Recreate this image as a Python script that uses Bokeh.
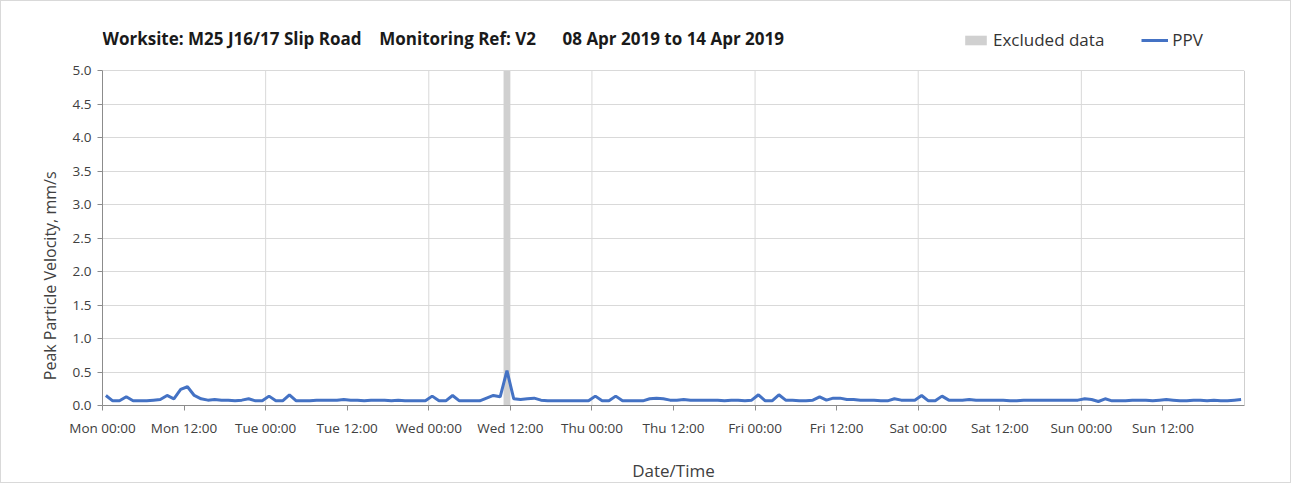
from bokeh.plotting import figure
from bokeh.models import (FixedTicker, Legend, LegendItem, ColumnDataSource,
                          NumeralTickFormatter, Label, Range1d)
from bokeh.embed import file_html
from bokeh.resources import INLINE

# ---------------- data ----------------
title_text = "Worksite: M25 J16/17 Slip Road\u00a0\u00a0\u00a0\u00a0Monitoring Ref: V2\u00a0\u00a0\u00a0\u00a0\u00a0\u00a008 Apr 2019 to 14 Apr 2019"
y_label = "Peak Particle Velocity, mm/s"
x_label = "Date/Time"

# hourly PPV readings (mm/s), Mon 00:00 .. Sun 23:00, plotted at mid-hour
ppv_mon = [0.15, 0.07, 0.07, 0.13, 0.07, 0.07, 0.07, 0.08, 0.09, 0.15, 0.10, 0.24,
           0.28, 0.15, 0.10, 0.08, 0.09, 0.08, 0.08, 0.07, 0.08, 0.10, 0.07, 0.07]
ppv_tue = [0.14, 0.07, 0.07, 0.16, 0.07, 0.07, 0.07, 0.08, 0.08, 0.08, 0.08, 0.09,
           0.08, 0.08, 0.07, 0.08, 0.08, 0.08, 0.07, 0.08, 0.07, 0.07, 0.07, 0.07]
ppv_wed = [0.14, 0.07, 0.07, 0.15, 0.07, 0.07, 0.07, 0.07, 0.11, 0.15, 0.13, 0.52,
           0.10, 0.09, 0.10, 0.11, 0.08, 0.07, 0.07, 0.07, 0.07, 0.07, 0.07, 0.07]
ppv_thu = [0.14, 0.07, 0.07, 0.14, 0.07, 0.07, 0.07, 0.07, 0.10, 0.11, 0.10, 0.08,
           0.08, 0.09, 0.08, 0.08, 0.08, 0.08, 0.08, 0.07, 0.08, 0.08, 0.07, 0.08]
ppv_fri = [0.16, 0.07, 0.07, 0.16, 0.08, 0.08, 0.07, 0.07, 0.08, 0.13, 0.08, 0.11,
           0.11, 0.09, 0.09, 0.08, 0.08, 0.08, 0.07, 0.07, 0.10, 0.08, 0.08, 0.08]
ppv_sat = [0.15, 0.07, 0.07, 0.14, 0.08, 0.08, 0.08, 0.09, 0.08, 0.08, 0.08, 0.08,
           0.08, 0.07, 0.07, 0.08, 0.08, 0.08, 0.08, 0.08, 0.08, 0.08, 0.08, 0.08]
ppv_sun = [0.10, 0.09, 0.06, 0.10, 0.07, 0.07, 0.07, 0.08, 0.08, 0.08, 0.07, 0.08,
           0.09, 0.08, 0.07, 0.07, 0.08, 0.08, 0.07, 0.08, 0.07, 0.07, 0.08, 0.09]
ppv = ppv_mon + ppv_tue + ppv_wed + ppv_thu + ppv_fri + ppv_sat + ppv_sun
hours = [h + 0.5 for h in range(len(ppv))]

# excluded data window (hours from Mon 00:00)
excl_start = [59.0]
excl_end = [60.0]

x_tick_hours = [0, 12, 24, 36, 48, 60, 72, 84, 96, 108, 120, 132, 144, 156]
x_tick_labels = ["Mon 00:00", "Mon 12:00", "Tue 00:00", "Tue 12:00", "Wed 00:00",
                 "Wed 12:00", "Thu 00:00", "Thu 12:00", "Fri 00:00", "Fri 12:00",
                 "Sat 00:00", "Sat 12:00", "Sun 00:00", "Sun 12:00"]
day_lines = [24, 48, 72, 96, 120, 144]
x_end = 168
y_ticks = [0.0, 0.5, 1.0, 1.5, 2.0, 2.5, 3.0, 3.5, 4.0, 4.5, 5.0]
y_max = 5.0

# ---------------- layout ----------------
FONT = "Open Sans"
W, H = 1291, 483
LEFT, RIGHT, TOP, BOTTOM = 101, 48, 20, 75
frame_h = H - TOP - BOTTOM
ppu = 338 / y_max                       # pixels per mm/s for the value area
head_room = (frame_h - 338) / ppu       # space above 5.0 for title/legend

p = figure(width=W, height=H, output_backend="svg", toolbar_location=None,
           x_range=Range1d(0, x_end), y_range=Range1d(0, y_max + head_room),
           min_border_left=LEFT, min_border_right=RIGHT, min_border_top=TOP,
           min_border_bottom=BOTTOM)
p.styles = {"border": "1px solid #d9d9d9"}
p.background_fill_color = "white"
p.border_fill_color = "white"
p.outline_line_color = None

# grids: horizontal at every tick, vertical at day boundaries (only in value area)
p.ygrid.ticker = FixedTicker(ticks=y_ticks)
p.ygrid.grid_line_color = "#d9d9d9"
p.xgrid.visible = False
p.segment(x0=day_lines, x1=day_lines, y0=[0.0] * len(day_lines),
          y1=[y_max] * len(day_lines), line_color="#d9d9d9", line_width=1)
p.segment(x0=[x_end], x1=[x_end], y0=[0.0], y1=[y_max],
          line_color="#a0a0a0", line_width=1)

# axes
p.yaxis.ticker = FixedTicker(ticks=y_ticks)
p.yaxis.bounds = (0, y_max)
p.yaxis.formatter = NumeralTickFormatter(format="0.0")
p.xaxis.ticker = FixedTicker(ticks=x_tick_hours)
p.xaxis.major_label_overrides = {h: lab for h, lab in zip(x_tick_hours, x_tick_labels)}
for ax in (p.xaxis[0], p.yaxis[0]):
    ax.axis_line_color = "#8c8c8c"
    ax.major_tick_line_color = "#8c8c8c"
    ax.major_tick_in = 0
    ax.major_tick_out = 5
    ax.minor_tick_line_color = None
    ax.major_label_text_font = FONT
    ax.major_label_text_font_size = "13.5px"
    ax.major_label_text_color = "#404040"
    ax.axis_label_text_font = FONT
    ax.axis_label_text_font_style = "normal"
    ax.axis_label_text_color = "#404040"
# the axis title sits centred on the value area (shifted below the head room)
p.yaxis.axis_label = y_label + "\u00a0" * 30
p.yaxis.axis_label_text_font_size = "16px"
p.yaxis.major_label_standoff = 6
p.yaxis.axis_label_standoff = 9
p.xaxis.axis_label = x_label
p.xaxis.axis_label_text_font_size = "17px"
p.xaxis.major_label_standoff = 8
p.xaxis.axis_label_standoff = 19

# data
excl_src = ColumnDataSource(dict(left=excl_start, right=excl_end,
                                 bottom=[0.0] * len(excl_start), top=[y_max] * len(excl_start)))
r_excl = p.quad(left="left", right="right", bottom="bottom", top="top", source=excl_src,
                fill_color="#d0d0d0", line_color=None)
src = ColumnDataSource(dict(x=hours, y=ppv))
r_line = p.line("x", "y", source=src, line_color="#4472C4", line_width=3)

# title (inside the head room above the value area)
title = Label(x=0, y=frame_h - 21, x_units="screen", y_units="screen",
              text=title_text, text_font=FONT, text_font_size="17px",
              text_font_style="bold", text_color="#1a1a1a",
              text_baseline="middle", text_align="left")
p.add_layout(title)

legend = Legend(items=[LegendItem(label="Excluded data", renderers=[r_excl]),
                       LegendItem(label="PPV", renderers=[r_line])],
                orientation="horizontal", location=(860, frame_h - 34),
                glyph_width=27, glyph_height=12, label_standoff=4, spacing=37,
                label_text_font=FONT, label_text_font_size="17px",
                label_text_color="#333333", background_fill_alpha=0,
                border_line_color=None, padding=0, margin=0)
p.add_layout(legend, "center")

open("out.html", "w").write(file_html(p, INLINE))
